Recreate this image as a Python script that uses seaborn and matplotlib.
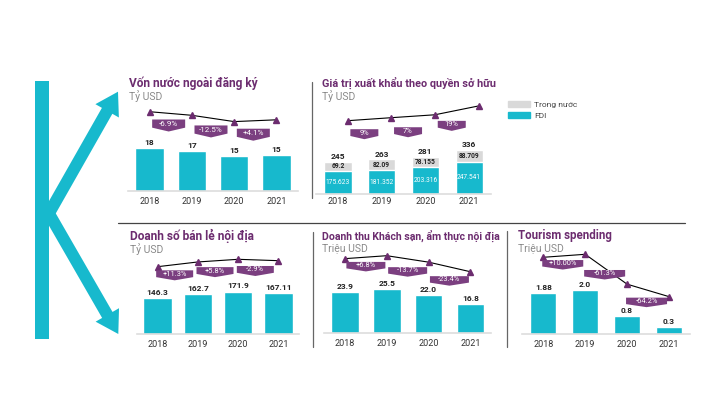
import numpy as np
import pandas as pd
import matplotlib
matplotlib.use("Agg")
import matplotlib.pyplot as plt
import seaborn as sns
from matplotlib.patches import Polygon, FancyArrow, Rectangle, Patch
from matplotlib.transforms import ScaledTranslation

sns.set_theme(style="white")
plt.rcParams["font.family"] = ["Roboto", "DejaVu Sans"]

# ---------------- data ----------------
years = ["2018", "2019", "2020", "2021"]

fdi_registered = [18.0, 16.8, 14.7, 15.3]
fdi_registered_labels = ["18", "17", "15", "15"]
fdi_registered_pct = ["-6.9%", "-12.5%", "+4.1%"]

export_fdi = [175.623, 181.352, 203.316, 247.541]
export_domestic = [69.2, 82.09, 78.155, 88.709]
export_fdi_labels = ["175.623", "181.352", "203.316", "247.541"]
export_domestic_labels = ["69.2", "82.09", "78.155", "88.709"]
export_total_labels = ["245", "263", "281", "336"]
export_pct = ["9%", "7%", "19%"]

retail = [146.3, 162.7, 171.9, 167.11]
retail_labels = ["146.3", "162.7", "171.9", "167.11"]
retail_pct = ["+11.3%", "+5.8%", "-2.9%"]

hospitality = [23.9, 25.5, 22.0, 16.8]
hospitality_labels = ["23.9", "25.5", "22.0", "16.8"]
hospitality_pct = ["+6.8%", "-13.7%", "-23.4%"]

tourism = [1.88, 2.0, 0.8, 0.3]
tourism_labels = ["1.88", "2.0", "0.8", "0.3"]
tourism_pct = ["+10.00%", "-61.3%", "-64.2%"]

titles = ["Vốn nước ngoài đăng ký", "Giá trị xuất khẩu theo quyền sở hữu",
          "Doanh số bán lẻ nội địa", "Doanh thu Khách sạn, ẩm thực nội địa",
          "Tourism spending"]
units = ["Tỷ USD", "Tỷ USD", "Tỷ USD", "Triệu USD", "Triệu USD"]
legend_labels = ["Trong nước", "FDI"]

# ---------------- style ----------------
TEAL = "#17B9CD"
GRAY = "#D9D9D9"
PURPLE = "#6C2C6F"
BOX = "#7B3F80"
W, H = 720, 405

fig = plt.figure(figsize=(7.2, 4.05), dpi=100)
fig.patch.set_facecolor("white")

# overlay in pixel coordinates (y downward)
ov = fig.add_axes([0, 0, 1, 1], zorder=10)
ov.set_xlim(0, W)
ov.set_ylim(H, 0)
ov.axis("off")
ov.patch.set_alpha(0)


def px_axes(left, top, right, bottom):
    return fig.add_axes([left / W, 1 - bottom / H, (right - left) / W, (bottom - top) / H])


def to_px(ax, x, y):
    disp = ax.transData.transform((x, y))
    return ov.transData.inverted().transform(disp)


def panel(cfg, bar_vals, line_vals, labels, pct, stacked=None):
    step = cfg["step"]
    left = cfg["c0"] - 0.5 * step
    right = cfg["c0"] + 3.5 * step
    ax = px_axes(left, cfg["top"], right, cfg["base"])
    ax.patch.set_alpha(0)
    df = pd.DataFrame({"year": years, "value": bar_vals})
    if stacked is None:
        sns.barplot(data=df, x="year", y="value", color=TEAL, saturation=1,
                    width=cfg["bw"], ax=ax)
    else:
        dom = stacked
        tot = [a + b for a, b in zip(bar_vals, dom)]
        dft = pd.DataFrame({"year": years, "value": tot})
        sns.barplot(data=dft, x="year", y="value", color=GRAY, saturation=1,
                    width=cfg["bw"], ax=ax)
        sns.barplot(data=df, x="year", y="value", color=TEAL, saturation=1,
                    width=cfg["bw"], ax=ax)
    ax.set_xlim(-0.5, 3.5)
    ax.set_ylim(0, (cfg["base"] - cfg["top"]) / cfg["scale"])
    ax.set_xlabel("")
    ax.set_ylabel("")
    ax.set_yticks([])
    ax.tick_params(axis="x", length=0, pad=cfg.get("pad", 3), labelsize=6.5,
                   labelcolor="#333333")
    for s in ["left", "right", "top"]:
        ax.spines[s].set_visible(False)
    ax.spines["bottom"].set_color("#DDDDDD")
    ax.spines["bottom"].set_linewidth(1.2)

    # value labels
    if stacked is None:
        for i, v in enumerate(bar_vals):
            ax.annotate(labels[i], (i, v), xytext=(0, 1.5), textcoords="offset points",
                        ha="center", va="bottom", fontsize=6, fontweight="bold",
                        color="#222222")

    # trend line on a twin axis
    ax2 = ax.twinx()
    b = cfg["lb"]
    ri, rpx = cfg["lref"]
    lo = line_vals[ri] - (cfg["base"] - rpx) / b
    hi = lo + (cfg["base"] - cfg["top"]) / b
    ax2.set_ylim(lo, hi)
    ax2.set_yticks([])
    for s in ax2.spines.values():
        s.set_visible(False)
    tr = ax2.transData + ScaledTranslation(cfg.get("ldx", 0) / 100, 0, fig.dpi_scale_trans)
    ax2.plot(np.arange(4), line_vals, color="black", lw=0.8, marker="^", ms=4.5,
             mfc=PURPLE, mec=PURPLE, transform=tr, zorder=3)

    # percentage banners
    bw, bh = cfg["boxw"], cfg["boxh"]
    d = bh * 0.32
    for i in range(3):
        xm = i + 0.5
        ym = (line_vals[i] + line_vals[i + 1]) / 2
        px, py = to_px(ax2, xm, ym)
        cx = px + cfg["bdx"]
        cy = py + cfg["bdy"][i]
        verts = [(cx - bw / 2, cy - bh / 2), (cx + bw / 2, cy - bh / 2),
                 (cx + bw / 2, cy + bh / 2 - d), (cx, cy + bh / 2),
                 (cx - bw / 2, cy + bh / 2 - d)]
        ov.add_patch(Polygon(verts, closed=True, fc=BOX, ec="none"))
        ov.text(cx, cy - d * 0.35, pct[i], ha="center", va="center",
                fontsize=cfg.get("bfs", 5.4), color="white")
    return ax, ax2


cfgs = [
    dict(c0=149.5, step=42.33, base=191, top=100, scale=2.37, bw=0.67, lb=3.0,
         lref=(0, 111.7), boxw=33, boxh=12, bdx=-2, bdy=[12, 13, 14], bfs=5.8, pad=4.5),
    dict(c0=338, step=43.7, base=194, top=100, scale=0.131, bw=0.62, lb=0.1615,
         lref=(0, 120.7), ldx=9.5, boxw=28, boxh=10, bdx=4.5, bdy=[15, 16, 15.5], pad=2.5),
    dict(c0=157.5, step=40.33, base=334, top=240, scale=0.247, bw=0.71, lb=0.289,
         lref=(0, 266.7), boxw=37, boxh=10, bdx=-3, bdy=[11, 11.5, 11], pad=4),
    dict(c0=345, step=41.77, base=333.3, top=240, scale=1.73, bw=0.66, lb=1.84,
         lref=(1, 255.7), boxw=39, boxh=9.5, bdx=0, bdy=[9.5, 13, 14], pad=4.3),
    dict(c0=543.3, step=41.9, base=334, top=240, scale=22.0, bw=0.63, lb=24.9,
         lref=(1, 254.3), boxw=41, boxh=9.5, bdx=-1.5, bdy=[9, 5.5, 12], pad=4),
]

# panel 1
panel(cfgs[0], fdi_registered, fdi_registered, fdi_registered_labels, fdi_registered_pct)

# panel 2 (stacked)
export_total = [a + b for a, b in zip(export_fdi, export_domestic)]
ax_e, _ = panel(cfgs[1], export_fdi, export_total, None, export_pct, stacked=export_domestic)
for i in range(4):
    ax_e.text(i, export_fdi[i] / 2, export_fdi_labels[i], ha="center", va="center",
              fontsize=4.8, color="white")
    ax_e.text(i, export_fdi[i] + export_domestic[i] / 2, export_domestic_labels[i],
              ha="center", va="center", fontsize=4.8, fontweight="bold", color="#222222")
    ax_e.annotate(export_total_labels[i], (i, export_total[i]), xytext=(0, 1.2),
                  textcoords="offset points", ha="center", va="bottom", fontsize=6,
                  fontweight="bold", color="#222222")
fig.legend(handles=[Patch(color=GRAY, label=legend_labels[0]),
                    Patch(color=TEAL, label=legend_labels[1])],
           loc="upper left", bbox_to_anchor=(508 / W, 1 - 101 / H), frameon=False,
           fontsize=6, handlelength=2.6, handleheight=0.75, labelspacing=0.45,
           handletextpad=0.5, borderpad=0, borderaxespad=0, labelcolor="#444444")

# panel 3-5
panel(cfgs[2], retail, retail, retail_labels, retail_pct)
panel(cfgs[3], hospitality, hospitality, hospitality_labels, hospitality_pct)
panel(cfgs[4], tourism, tourism, tourism_labels, tourism_pct)

# titles
title_pos = [(129, 83), (322, 83), (130, 236), (322, 235.5), (518, 235.5)]
title_fs = [8.6, 7.8, 8.6, 7.6, 8.3]
for (x, y), t, u, fs in zip(title_pos, titles, units, title_fs):
    ov.text(x, y, t, ha="left", va="center", fontsize=fs, fontweight="bold", color=PURPLE)
    ov.text(x, y + 13, u, ha="left", va="center", fontsize=7.5, color="#8A8A8A")

# separators
ov.plot([118, 685], [222.5, 222.5], color="#444444", lw=0.9)
ov.plot([312, 312], [82, 198], color="#666666", lw=0.9)
ov.plot([312.5, 312.5], [232, 347], color="#666666", lw=0.9)
ov.plot([506.5, 506.5], [231, 347], color="#666666", lw=0.9)

# K logo
ov.add_patch(Rectangle((35, 80.7), 14, 258.6, color=TEAL, lw=0))
ov.add_patch(FancyArrow(44, 222, 74, -130.3, width=12, head_width=27, head_length=22,
                        length_includes_head=True, color=TEAL, lw=0))
ov.add_patch(FancyArrow(44, 205, 74.3, 129, width=12, head_width=27, head_length=22,
                        length_includes_head=True, color=TEAL, lw=0))

fig.savefig("out.png", dpi=100)
